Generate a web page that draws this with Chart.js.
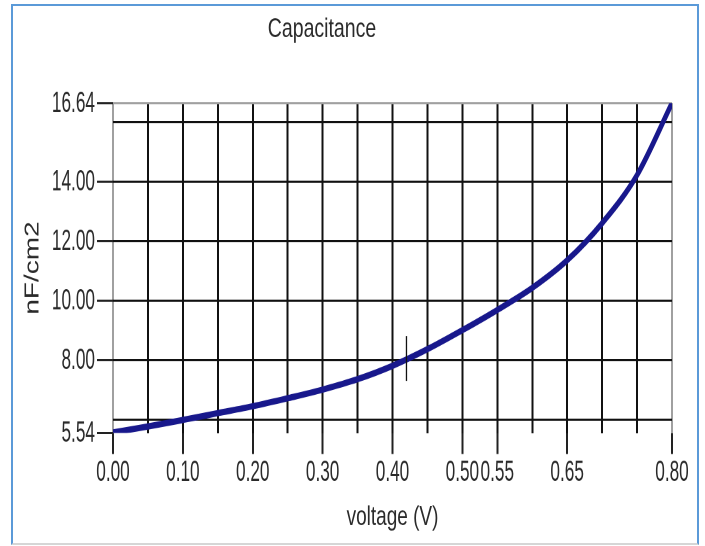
<!DOCTYPE html>
<html>
<head>
<meta charset="utf-8">
<script src="https://cdn.jsdelivr.net/npm/chart.js@4.4.0/dist/chart.umd.min.js"></script>
<style>
  html, body { margin: 0; padding: 0; background: #fff; }
  /* the source picture is a vertically stretched screenshot, so the canvas is stretched too */
  #wrap { position: absolute; left: 0; top: 0; width: 705px; height: 390px; transform: scaleY(1.4); transform-origin: 0 0; }
  #frame { position: absolute; left: 11px; top: 4px; width: 684px; height: 537px; border: 2px solid #5b9ad8; border-bottom-color: #d6d6d6; pointer-events: none; }
</style>
</head>
<body>
<div id="wrap"><canvas id="grafico" width="705" height="390"></canvas></div>
<div id="frame"></div>
<script>
// dados
const volts = [0.00, 0.05, 0.10, 0.15, 0.20, 0.25, 0.30, 0.35, 0.40, 0.45, 0.50, 0.55, 0.60, 0.65, 0.70, 0.75, 0.80];
const capacitance = [5.56, 5.76, 5.98, 6.21, 6.44, 6.71, 7.00, 7.35, 7.80, 8.36, 9.00, 9.68, 10.42, 11.35, 12.60, 14.22, 16.64];

const xGrid = [0.00, 0.05, 0.10, 0.15, 0.20, 0.25, 0.30, 0.35, 0.40, 0.45, 0.50, 0.55, 0.60, 0.65, 0.70, 0.75, 0.80];
const xLabeled = [0.00, 0.10, 0.20, 0.30, 0.40, 0.50, 0.55, 0.65, 0.80];
const yGrid = [5.54, 6, 8, 10, 12, 14, 16, 16.64];
const yLabeled = [5.54, 8, 10, 12, 14, 16.64];
const cursorX = 0.42;
const cursorY = 8.0;

const REGULAR = "'Liberation Sans', Arial, sans-serif";
const NARROW_K = 0.82; // Arial Narrow ~ Arial comprimida na horizontal

function narrowText(ctx, text, x, y, align) {
  ctx.save();
  ctx.translate(x, y);
  ctx.scale(NARROW_K, 1);
  ctx.textAlign = align;
  ctx.fillText(text, 0, 0);
  ctx.restore();
}

const extrasPlugin = {
  id: 'extras',
  afterDraw(chart) {
    const ctx = chart.ctx;
    const xs = chart.scales.x, ys = chart.scales.y;
    const area = chart.chartArea;
    ctx.save();
    ctx.fillStyle = '#2a2a2a';
    ctx.textBaseline = 'middle';
    ctx.font = '19.5px ' + REGULAR;
    ctx.textAlign = 'center';
    ctx.fillText('Capacitance', 322, 21);

    // rotulos dos ticks (fonte estreita)
    ctx.font = '21px ' + REGULAR;
    xLabeled.forEach(v => narrowText(ctx, v.toFixed(2), xs.getPixelForValue(v), area.bottom + 28.2, 'center'));
    yLabeled.forEach(v => narrowText(ctx, v.toFixed(2), area.left - 18, ys.getPixelForValue(v) + 0.5, 'right'));

    // marcador do cursor
    const px = xs.getPixelForValue(cursorX);
    const py = ys.getPixelForValue(cursorY);
    ctx.strokeStyle = '#111';
    ctx.lineWidth = 1.3;
    ctx.beginPath();
    ctx.moveTo(px, py - 17);
    ctx.lineTo(px, py + 15);
    ctx.stroke();
    ctx.restore();
  }
};

new Chart(document.getElementById('grafico'), {
  type: 'line',
  data: {
    datasets: [{
      data: volts.map((v, i) => ({ x: v, y: capacitance[i] })),
      borderColor: '#18188c',
      borderWidth: 4.5,
      borderCapStyle: 'round',
      pointRadius: 0,
      fill: false,
      cubicInterpolationMode: 'monotone'
    }]
  },
  options: {
    responsive: false,
    animation: false,
    devicePixelRatio: 2,
    layout: { padding: { top: 73.6, right: 33, left: 0, bottom: 0 } },
    plugins: { legend: { display: false }, tooltip: { enabled: false }, title: { display: false } },
    scales: {
      x: {
        type: 'linear',
        min: 0, max: 0.8,
        afterBuildTicks: (axis) => { axis.ticks = xGrid.map(v => ({ value: v })); },
        afterFit: (s) => { s.height = 80.7; },
        border: { display: false },
        grid: {
          color: (c) => (c.tick && (c.tick.value === 0 || c.tick.value === 0.8)) ? '#a0a0a0' : '#111',
          lineWidth: 2,
          tickLength: 15,
          tickWidth: 2,
          tickColor: (c) => (c.tick && xLabeled.includes(c.tick.value)) ? '#222' : 'rgba(0,0,0,0)'
        },
        ticks: { display: false, autoSkip: false, maxRotation: 0, minRotation: 0 },
        title: {
          display: true, text: 'voltage (V)', color: '#2a2a2a',
          font: { family: REGULAR, size: 19, lineHeight: 1.2 },
          padding: { top: 0, bottom: 8.6 }
        }
      },
      y: {
        type: 'linear',
        min: 5.54, max: 16.64,
        afterBuildTicks: (axis) => { axis.ticks = yGrid.map(v => ({ value: v })); },
        afterFit: (s) => { s.width = 113; },
        border: { display: false },
        grid: {
          color: (c) => {
            if (!c.tick) return '#111';
            if (c.tick.value === 5.54) return 'rgba(0,0,0,0)';
            if (c.tick.value === 16.64) return '#a0a0a0';
            return '#111';
          },
          lineWidth: 1.5,
          tickLength: 16,
          tickWidth: 1.5,
          tickColor: (c) => (c.tick && yLabeled.includes(c.tick.value)) ? '#222' : 'rgba(0,0,0,0)'
        },
        ticks: { display: false, autoSkip: false },
        title: {
          display: true, text: 'nF/cm2', color: '#2a2a2a',
          font: { family: REGULAR, size: 20, lineHeight: 1.2 },
          padding: { top: 21, bottom: 0 }
        }
      }
    }
  },
  plugins: [extrasPlugin]
});
</script>
</body>
</html>
